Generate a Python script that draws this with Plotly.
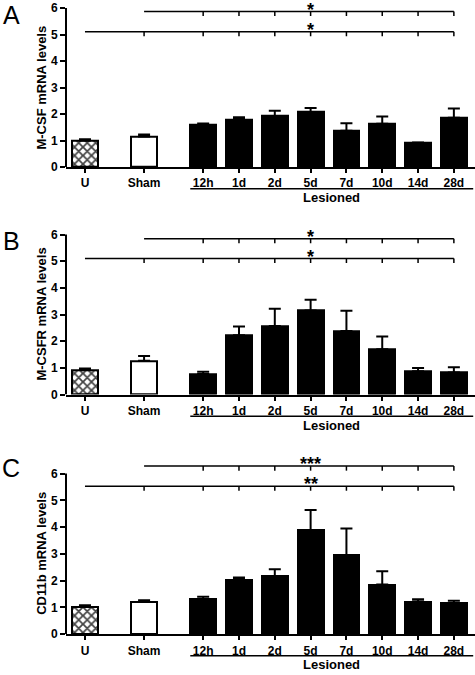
import plotly.graph_objects as go

categories = ["U", "Sham", "12h", "1d", "2d", "5d", "7d", "10d", "14d", "28d"]
x_positions = [0, 1.65, 3.3, 4.3, 5.3, 6.3, 7.3, 8.3, 9.3, 10.3]

mcsf_mean = [1.0, 1.15, 1.6, 1.8, 1.92, 2.08, 1.37, 1.63, 0.9, 1.86]
mcsf_sem = [0.05, 0.08, 0.04, 0.08, 0.2, 0.15, 0.28, 0.28, 0.03, 0.35]

mcsfr_mean = [0.93, 1.27, 0.77, 2.22, 2.57, 3.15, 2.38, 1.7, 0.87, 0.83]
mcsfr_sem = [0.05, 0.18, 0.09, 0.33, 0.65, 0.4, 0.76, 0.48, 0.13, 0.19]

cd11b_mean = [1.02, 1.2, 1.3, 2.04, 2.16, 3.88, 2.95, 1.85, 1.22, 1.15]
cd11b_sem = [0.06, 0.07, 0.1, 0.08, 0.26, 0.76, 1.0, 0.5, 0.08, 0.1]

panel_letters = ["A", "B", "C"]
y_titles = ["M-CSF mRNA levels", "M-CSFR mRNA levels", "CD11b mRNA levels"]
means = [mcsf_mean, mcsfr_mean, cd11b_mean]
sems = [mcsf_sem, mcsfr_sem, cd11b_sem]
sig_upper = ["*", "*", "***"]
sig_lower = ["*", "*", "**"]
upper_level = [5.87, 5.84, 6.28]
lower_level = [5.11, 5.10, 5.53]
y_tick_vals = [0, 1, 2, 3, 4, 5, 6]

W, H = 475, 675
FONT = "Liberation Sans, Arial, sans-serif"

panel_y0 = [168, 398.3, 640.7]
panel_ppu = [26.8, 27.0, 27.07]
panel_top = [6.2, 6.2, 6.4]


def py(p):
    return 1 - p / H


fig = go.Figure()
xa_range = [-0.53, 10.89]
fills = ["white", "white"] + ["black"] * 8

for i in range(3):
    xa = "x" if i == 0 else f"x{i+1}"
    ya = "y" if i == 0 else f"y{i+1}"
    dom = [py(panel_y0[i]), py(panel_y0[i] - panel_top[i] * panel_ppu[i])]
    pattern_shapes = ["x"] + [""] * 9
    fig.add_trace(go.Bar(
        x=x_positions, y=means[i], width=0.72,
        marker=dict(color=fills, line=dict(color="black", width=2),
                    pattern=dict(shape=pattern_shapes, fgcolor="black", bgcolor="white",
                                 fgopacity=1, size=6, solidity=0.5, fillmode="overlay")),
        error_y=dict(type="data", symmetric=False, array=sems[i],
                     arrayminus=[0] * len(sems[i]), color="black", thickness=2, width=6),
        xaxis=xa, yaxis=ya, showlegend=False,
    ))
    lay_x = "xaxis" if i == 0 else f"xaxis{i+1}"
    lay_y = "yaxis" if i == 0 else f"yaxis{i+1}"
    fig.layout[lay_x] = dict(
        domain=[66 / W, 1], range=xa_range, anchor=ya,
        tickvals=x_positions, ticktext=categories,
        showline=True, linecolor="black", linewidth=2,
        ticks="outside", ticklen=4, tickwidth=2, tickcolor="black",
        showgrid=False, zeroline=False,
        tickfont=dict(family=FONT, size=12, color="black", weight="bold"),
    )
    fig.layout[lay_y] = dict(
        domain=dom, range=[0, panel_top[i]], anchor=xa,
        tickvals=y_tick_vals, ticks="outside", ticklen=5, tickwidth=2, tickcolor="black",
        showline=False, showgrid=False, zeroline=False,
        tickfont=dict(family=FONT, size=12, color="black", weight="bold"),
    )
    fig.add_shape(type="line", xref=f"{xa} domain", yref=ya, x0=0, x1=0,
                  y0=0, y1=y_tick_vals[-1], line=dict(color="black", width=2))
    tick_depth = 0.17
    for (start_idx, level, label) in [(1, upper_level[i], sig_upper[i]),
                                      (0, lower_level[i], sig_lower[i])]:
        x_start = x_positions[start_idx]
        x_end = x_positions[-1]
        fig.add_shape(type="line", xref=xa, yref=ya, x0=x_start, x1=x_end,
                      y0=level, y1=level, line=dict(color="black", width=1.5))
        for xp in x_positions[start_idx + 1:]:
            fig.add_shape(type="line", xref=xa, yref=ya, x0=xp, x1=xp,
                          y0=level, y1=level - tick_depth, line=dict(color="black", width=1.5))
        fig.add_annotation(x=x_positions[5], y=level, xref=xa, yref=ya, text=label,
                           showarrow=False, yanchor="bottom", yshift=-10,
                           font=dict(family=FONT, size=18, color="black", weight="bold"))
    fig.add_shape(type="line", xref=xa, yref="paper",
                  x0=x_positions[2] - 0.36, x1=10.84,
                  y0=py(panel_y0[i] + 22), y1=py(panel_y0[i] + 22),
                  line=dict(color="black", width=1.5))
    fig.add_annotation(x=(x_positions[2] - 0.36 + 10.84) / 2, y=py(panel_y0[i] + 31),
                       xref=xa, yref="paper", text="Lesioned", showarrow=False,
                       yanchor="middle", font=dict(family=FONT, size=13, color="black", weight="bold"))
    fig.add_annotation(x=42 / W, y=3, xref="paper", yref=ya, text=y_titles[i],
                       textangle=-90, showarrow=False, xanchor="center", yanchor="middle",
                       font=dict(family=FONT, size=13, color="black", weight="bold"))
    letter_y = [14, 243, 473][i]
    fig.add_annotation(x=11 / W, y=py(letter_y), xref="paper", yref="paper",
                       text=panel_letters[i], showarrow=False, xanchor="center", yanchor="middle",
                       font=dict(family=FONT, size=25, color="black"))

fig.update_layout(
    width=W, height=H, margin=dict(l=0, r=0, t=0, b=0),
    paper_bgcolor="white", plot_bgcolor="white", bargap=0,
)
fig.write_html(
    "out.html",
    config={"displayModeBar": False},
    post_script="document.body.style.margin='0';document.body.style.overflow='hidden';"
                "document.documentElement.style.overflow='hidden';",
)
